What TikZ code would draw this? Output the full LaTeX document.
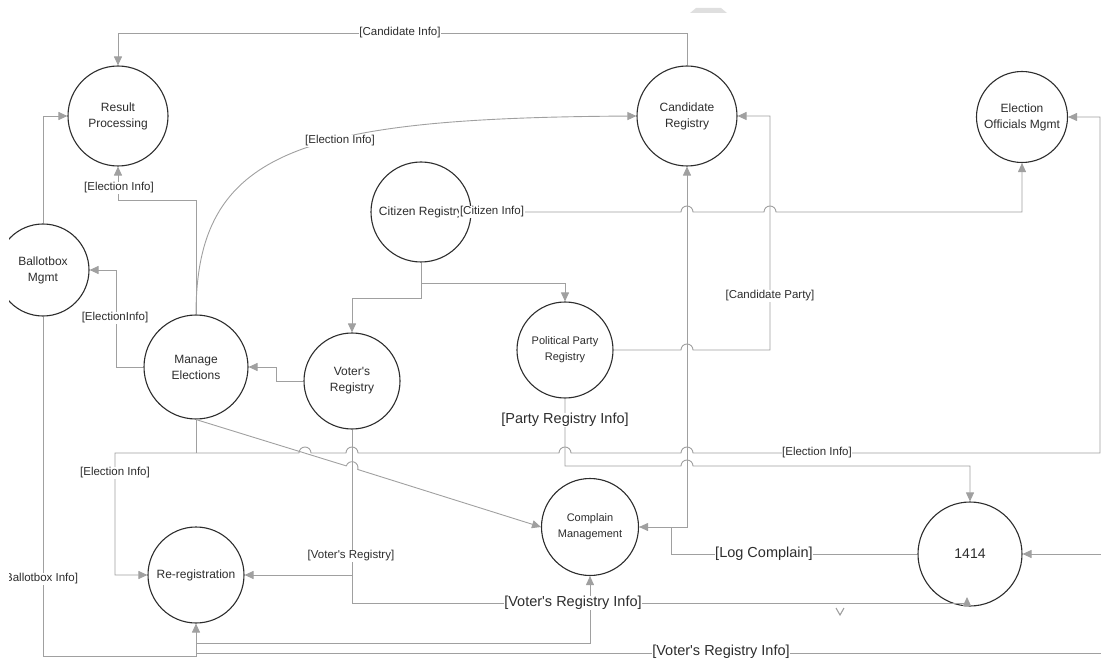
\documentclass[tikz,border=0pt]{standalone}
\usepackage{fontspec}
\setmainfont{Liberation Sans}
\usetikzlibrary{arrows.meta}
\definecolor{lg}{RGB}{160,160,160}
\definecolor{ink}{RGB}{45,45,45}
\tikzset{
 proc/.style={circle, draw=ink, line width=1.1pt, fill=white, align=center, inner sep=0pt, text=ink, font=\fontsize{12}{16}\selectfont},
 smallproc/.style={proc, font=\fontsize{11}{16}\selectfont},
 flow/.style={draw=lg, line width=0.9pt},
 arr/.style={flow, -{Triangle[length=9pt,width=8pt]}},
 darr/.style={flow, {Triangle[length=9pt,width=8pt]}-{Triangle[length=9pt,width=8pt]}},
 lab/.style={fill=white, inner sep=0.6pt, text=ink, font=\fontsize{11.5}{13}\selectfont},
 biglab/.style={lab, font=\fontsize{14.5}{16}\selectfont},
}
\begin{document}
\begin{tikzpicture}[x=1pt,y=-1pt]
\useasboundingbox (0,0) rectangle (1101,663);
\clip (9,0) rectangle (1101,663);
% faint mark at the top
\fill[gray!25] (690,13) -- (696,8) -- (721,8) -- (727,13) -- cycle;
% processes
\node[proc, minimum size=100pt] (rp) at (118,116) {Result\\Processing};
\node[proc, minimum size=100pt] (cr) at (687,116) {Candidate\\Registry};
\node[proc, minimum size=91pt] (eo) at (1022,117) {Election\\Officials Mgmt};
\node[proc, minimum size=100pt] (ci) at (421,212) {Citizen Registry};
\node[proc, minimum size=92pt] (bb) at (43,270) {Ballotbox\\Mgmt};
\node[proc, minimum size=104pt] (me) at (196,367) {Manage\\Elections};
\node[proc, minimum size=96pt] (vr) at (352,381) {Voter\textquotesingle s\\Registry};
\node[smallproc, minimum size=96pt] (pp) at (565,350) {Political Party\\Registry};
\node[smallproc, minimum size=97pt] (cm) at (590,527) {Complain\\Management};
\node[proc, minimum size=96pt] (rr) at (196,575) {Re-registration};
\node[proc, minimum size=104pt, font=\fontsize{14}{16}\selectfont] (io) at (970,554) {1414};
% junction coordinates
\coordinate (j1) at (421,283);
\coordinate (j2) at (671,527);
\coordinate (j3) at (352,575);
\coordinate (j4) at (196,643);
\coordinate (j5) at (196,653);
\coordinate (j6) at (196,453);
\coordinate (e1) at (1101,653);
\coordinate (e2) at (1103,554);
% flows
\draw[arr] (cr.north) -- (687,33) -- (118,33) -- (rp.north);
\draw[arr] (bb.north) -- (43,116) -- (rp.west);
\draw[arr] (me.north) -- (196,200) -- (118,200) -- (rp.south);
\draw[arr] (me.north) .. controls (196,150) and (300,118) .. (cr.west);
\draw[arr] (me.west) -- (116,367) -- (116,270) -- (bb.east);
\draw[arr] (vr.west) -- (276,381) -- (276,367) -- (me.east);
\draw[arr] (ci.south) -- (421,298) -- (352,298) -- (vr.north);
\draw[arr] (j1) -- (565,283) -- (pp.north);
\draw[arr] (ci.east) -- (681,212) arc[start angle=180,end angle=0,radius=6pt] -- (764,212) arc[start angle=180,end angle=0,radius=6pt] -- (1022,212) -- (eo.south);
\draw[arr] (pp.east) -- (681,350) arc[start angle=180,end angle=0,radius=6pt] -- (770,350) -- (770,116) -- (cr.east);
\draw[darr] (cr.south) |- (cm.east);
\draw[flow] (io.west) -- (671,554) -- (j2);
\draw[flow] (me.south) -- (j6);
\draw[darr] (rr.west) -- (115,575) -- (115,453) -- (299,453) arc[start angle=180,end angle=0,radius=6pt] -- (346,453) arc[start angle=180,end angle=0,radius=6pt] -- (559,453) arc[start angle=180,end angle=0,radius=6pt] -- (681,453) arc[start angle=180,end angle=0,radius=6pt] -- (1100,453) -- (1100,117) -- (eo.east);
\draw[arr] (pp.south) -- (565,466) -- (681,466) arc[start angle=180,end angle=0,radius=6pt] -- (970,466) -- (io.north);
\draw[arr] (me.south) -- (346.27,465.9) arc[start angle=162.67,end angle=-17.33,radius=6pt] -- (cm.west);
\draw[arr] (vr.south) -- (352,603) -- (967,603) -- (967,597);
\draw[arr] (j3) -- (rr.east);
\draw[arr] (j4) -- (590,643) -- (cm.south);
\draw[arr] (bb.south) -- (43,656) -- (196,656) -- (rr.south);
\draw[flow] (j5) -- (e1);
\draw[arr] (e2) -- (io.east);
% stray tip mark
\draw[lg, line width=1.1pt] (836,608) -- (840,615) -- (844,608);
% labels
\node[lab] at (400,33) {[Candidate Info]};
\node[lab] at (119,188) {[Election Info]};
\node[lab] at (340,141) {[Election Info]};
\node[lab] at (115,318) {[ElectionInfo]};
\node[lab] at (492,212) {[Citizen Info]};
\node[lab] at (770,296) {[Candidate Party]};
\node[biglab] at (565,420) {[Party Registry Info]};
\node[lab] at (817,453) {[Election Info]};
\node[lab] at (115,473) {[Election Info]};
\node[lab] at (351,556) {[Voter\textquotesingle s Registry]};
\node[biglab] at (764,554) {[Log Complain]};
\node[biglab] at (573,603) {[Voter\textquotesingle s Registry Info]};
\node[biglab] at (721,652) {[Voter\textquotesingle s Registry Info]};
\node[lab] at (40,579) {[Ballotbox Info]};
\end{tikzpicture}
\end{document}
